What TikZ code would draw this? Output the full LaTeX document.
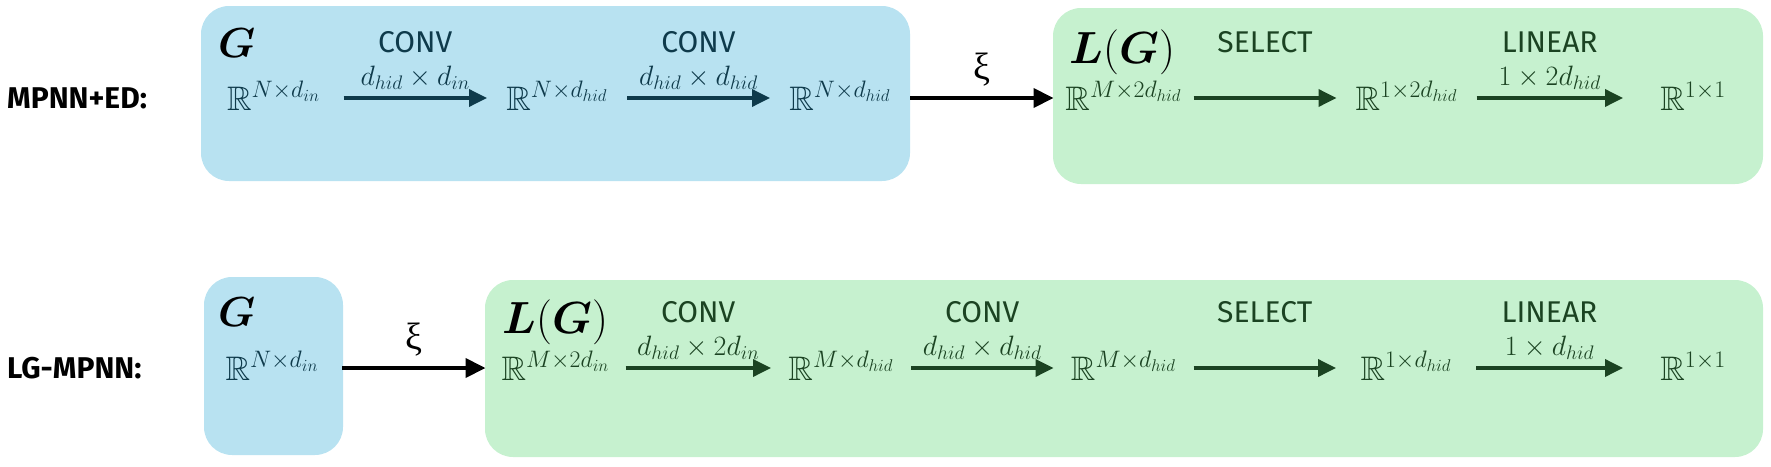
\RequirePackage{fix-cm}
\documentclass[tikz,border=0pt]{standalone}
\usepackage{amsmath,amssymb,bm}
\usepackage{fontspec}
\setmainfont{Fira Sans}
\newfontfamily\greekfont{Liberation Serif}
\usetikzlibrary{arrows.meta}
\definecolor{bluefill}{HTML}{B8E2F1}
\definecolor{greenfill}{HTML}{C6F1CF}
\definecolor{bluetext}{HTML}{0E3A4B}
\definecolor{greentext}{HTML}{1B4322}
\tikzset{
  panel/.style={rounded corners=28pt},
  dimnode/.style={minimum width=140pt, inner sep=0pt, outer sep=0pt, text height=34pt, text depth=10pt, font=\fontsize{34}{40}\selectfont},
  opname/.style={font=\fontsize{30}{36}\selectfont, anchor=base, yshift=46pt, inner sep=0pt},
  dimlab/.style={font=\fontsize{28}{34}\selectfont, anchor=base, yshift=13pt, inner sep=0pt},
  arrB/.style={color=bluetext, line width=3.5pt, -{Triangle[length=18pt,width=17pt]}},
  arrG/.style={color=greentext, line width=3.5pt, -{Triangle[length=18pt,width=17pt]}},
  arrK/.style={color=black, line width=4pt, -{Triangle[length=20pt,width=19pt]}},
  xilab/.style={font=\greekfont\fontsize{38}{42}\selectfont, anchor=base, yshift=19pt, inner sep=0pt},
  rowlab/.style={font=\bfseries\fontsize{30}{36}\selectfont, anchor=base west, inner sep=0pt},
  title/.style={anchor=base west, inner sep=0pt, font=\fontsize{42}{48}\selectfont},
  titleL/.style={anchor=base west, inner sep=0pt, font=\fontsize{45}{50}\selectfont}
}
\begin{document}
\begin{tikzpicture}[x=1pt,y=-1pt]
\useasboundingbox (0,0) rectangle (1771,466);
% panels
\fill[bluefill, panel] (201,6) rectangle (910,181);
\fill[greenfill, panel] (1053,8) rectangle (1763,184);
\fill[bluefill, panel] (204,277) rectangle (343,455);
\fill[greenfill, panel] (485,280) rectangle (1763,457);
% row labels
\node[rowlab] (lab1) at (7,108) {MPNN+ED:};
\node[rowlab] (lab2) at (7,378) {LG-MPNN:};
% titles
\node[title, text=black] (tG1) at (218,57) {$\bm{G}$};
\node[titleL, text=black] (tL1) at (1069,63) {$\bm{L}(\bm{G})$};
\node[title, text=black] (tG2) at (218,326) {$\bm{G}$};
\node[titleL, text=black] (tL2) at (502,333) {$\bm{L}(\bm{G})$};
% top row
\node[dimnode, text=bluetext] (a1) at (273.5,98) {$\mathbb{R}^{N\times d_{in}}$};
\node[dimnode, text=bluetext] (a2) at (557,98) {$\mathbb{R}^{N\times d_{hid}}$};
\node[dimnode, text=bluetext] (a3) at (840,98) {$\mathbb{R}^{N\times d_{hid}}$};
\node[dimnode, text=greentext] (a4) at (1123.5,98) {$\mathbb{R}^{M\times 2d_{hid}}$};
\node[dimnode, text=greentext] (a5) at (1406.5,98) {$\mathbb{R}^{1\times 2d_{hid}}$};
\node[dimnode, text=greentext] (a6) at (1693,98) {$\mathbb{R}^{1\times 1}$};
\draw[arrB] (a1) -- (a2) node[midway, opname] (a1op) {CONV} node[midway, dimlab] (a1dim) {$d_{hid}\times d_{in}$};
\draw[arrB] (a2) -- (a3) node[midway, opname] (a2op) {CONV} node[midway, dimlab] (a2dim) {$d_{hid}\times d_{hid}$};
\draw[arrK] (a3) -- (a4) node[midway, xilab] (a3xi) {ξ};
\draw[arrG] (a4) -- (a5) node[midway, opname] (a4op) {SELECT};
\draw[arrG] (a5) -- (a6) node[midway, opname] (a5op) {LINEAR} node[midway, dimlab] (a5dim) {$1\times 2d_{hid}$};
% bottom row
\node[dimnode, text=bluetext] (b1) at (272,368) {$\mathbb{R}^{N\times d_{in}}$};
\node[dimnode, text=greentext] (b2) at (555.5,368) {$\mathbb{R}^{M\times 2d_{in}}$};
\node[dimnode, text=greentext] (b3) at (841,368) {$\mathbb{R}^{M\times d_{hid}}$};
\node[dimnode, text=greentext] (b4) at (1123.5,368) {$\mathbb{R}^{M\times d_{hid}}$};
\node[dimnode, text=greentext] (b5) at (1406,368) {$\mathbb{R}^{1\times d_{hid}}$};
\node[dimnode, text=greentext] (b6) at (1693,368) {$\mathbb{R}^{1\times 1}$};
\draw[arrK] (b1) -- (b2) node[midway, xilab] (b1xi) {ξ};
\draw[arrG] (b2) -- (b3) node[midway, opname] (b2op) {CONV} node[midway, dimlab] (b2dim) {$d_{hid}\times 2d_{in}$};
\draw[arrG] (b3) -- (b4) node[midway, opname] (b3op) {CONV} node[midway, dimlab] (b3dim) {$d_{hid}\times d_{hid}$};
\draw[arrG] (b4) -- (b5) node[midway, opname] (b4op) {SELECT};
\draw[arrG] (b5) -- (b6) node[midway, opname] (b5op) {LINEAR} node[midway, dimlab] (b5dim) {$1\times d_{hid}$};
\end{tikzpicture}
\end{document}
